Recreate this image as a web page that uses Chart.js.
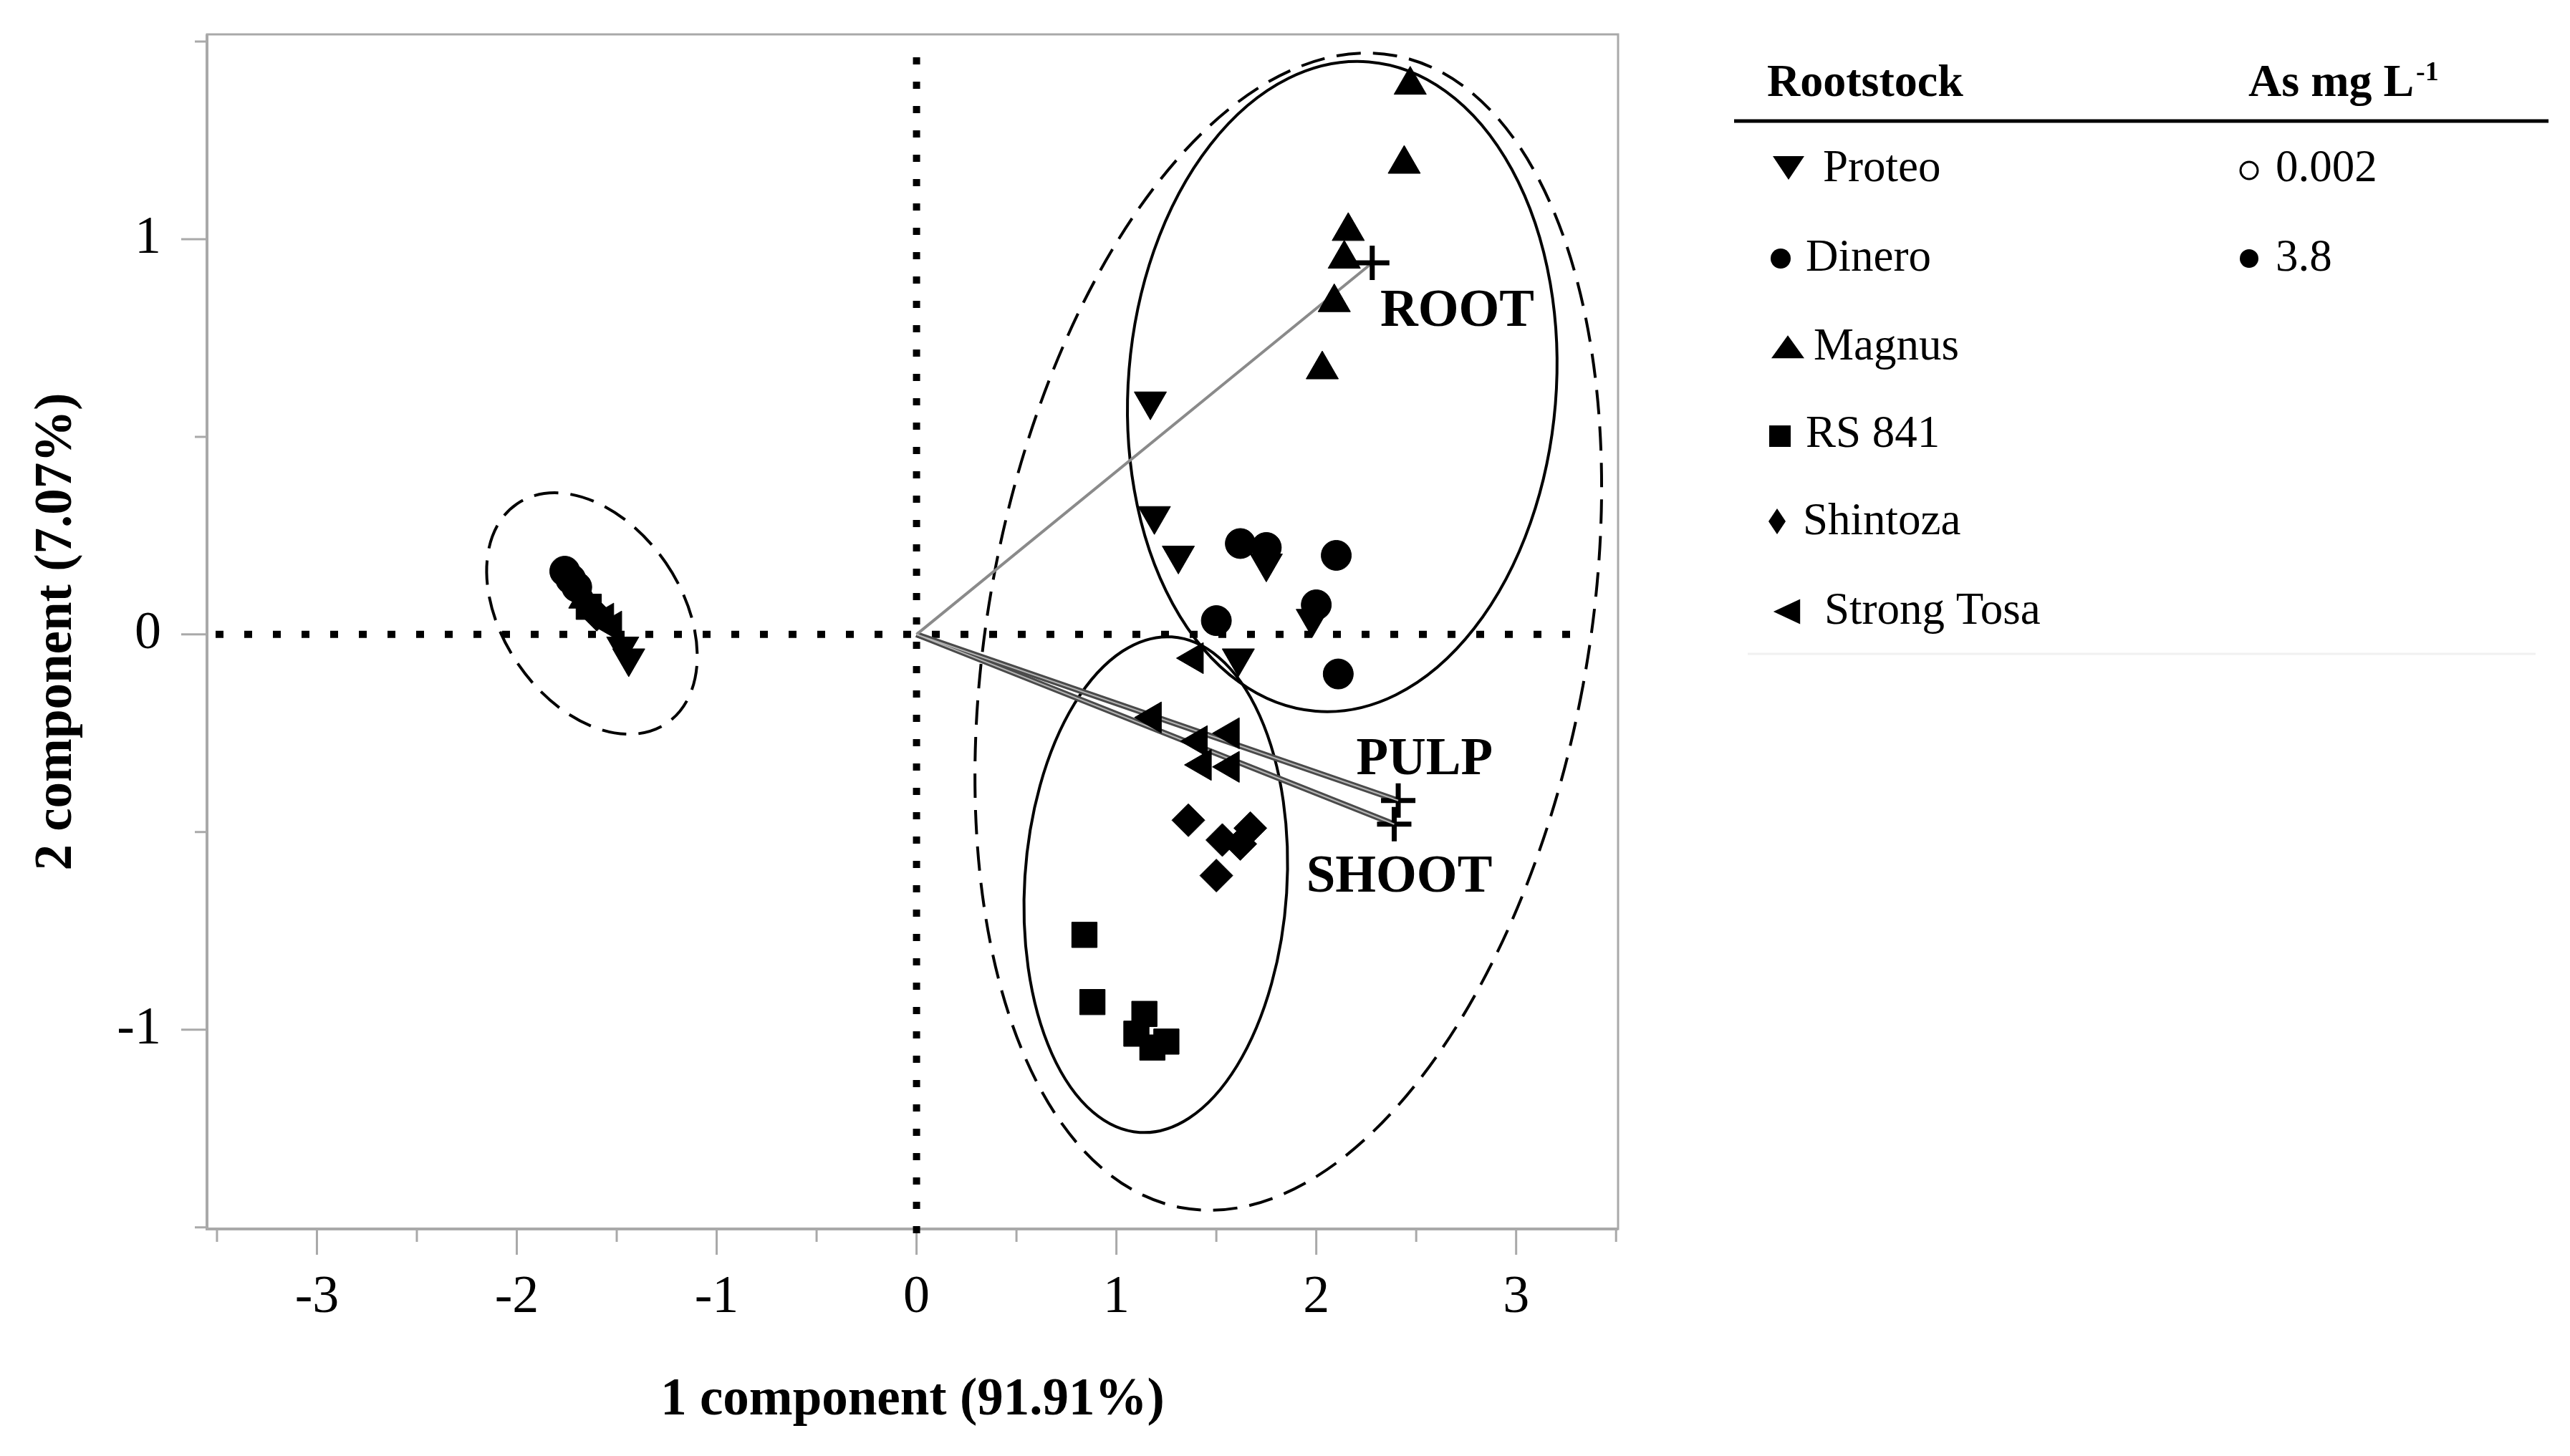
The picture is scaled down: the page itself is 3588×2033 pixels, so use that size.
<!DOCTYPE html>
<html>
<head>
<meta charset="utf-8">
<title>PCA rootstock</title>
<script src="https://cdn.jsdelivr.net/npm/chart.js@4.4.1/dist/chart.umd.min.js"></script>
<style>
  html, body { margin: 0; padding: 0; background: #fff; }
  #wrap { position: relative; width: 3588px; height: 2033px; }
</style>
</head>
<body>
<div id="wrap"><canvas id="pcaChart" width="3588" height="2033"></canvas></div>
<script>
// ---- data (component 1, component 2) ----
const PROTEO = [[1.17, 0.59], [1.19, 0.30], [1.31, 0.20], [1.75, 0.18], [1.98, 0.04], [1.61, -0.06],
  [-1.47, -0.03], [-1.44, -0.06]];
const DINERO = [[1.62, 0.23], [1.75, 0.22], [2.10, 0.20], [1.50, 0.035], [2.00, 0.075], [2.11, -0.10],
  [-1.76, 0.16], [-1.73, 0.14], [-1.70, 0.12]];
const MAGNUS = [[2.47, 1.39], [2.44, 1.19], [2.16, 1.02], [2.14, 0.95], [2.09, 0.84], [2.03, 0.67],
  [-1.66, 0.09]];
const RS841 = [[0.84, -0.76], [0.88, -0.93], [1.14, -0.96], [1.10, -1.01], [1.25, -1.03], [1.18, -1.045],
  [-1.64, 0.07]];
const SHINTOZA = [[1.36, -0.47], [1.53, -0.52], [1.67, -0.49], [1.62, -0.53], [1.50, -0.61],
  [-1.60, 0.05]];
const STRONG_TOSA = [[1.39, -0.06], [1.18, -0.21], [1.41, -0.27], [1.57, -0.25], [1.43, -0.33], [1.57, -0.335],
  [-1.56, 0.04], [-1.52, 0.02]];

// loading vectors (organ)
const ORGANS = ['ROOT', 'PULP', 'SHOOT'];
const ORGAN_ENDS = [[2.28, 0.94], [2.41, -0.42], [2.39, -0.48]];
const ORGAN_LABEL_AT = [[2.32, 0.78], [2.20, -0.353], [1.95, -0.65]];

// grouping ellipses: centre x, centre y, half width (x units), half height (y units), tilt in degrees
const ELLIPSES = [
  { cx: 1.86, cy: 0.007, rx: 1.499, ry: 1.482, tilt: 10.5, dashed: true },
  { cx: -1.624, cy: 0.053, rx: 0.448, ry: 0.336, tilt: -34.4, dashed: true },
  { cx: 2.13, cy: 0.627, rx: 1.07, ry: 0.824, tilt: 4.7, dashed: false },
  { cx: 1.197, cy: -0.633, rx: 0.656, ry: 0.628, tilt: 3.7, dashed: false }
];

const X_TICKS = [-3, -2, -1, 0, 1, 2, 3];
const X_MINOR = [-3.5, -2.5, -1.5, -0.5, 0.5, 1.5, 2.5, 3.5];
const Y_TICKS = [-1, 0, 1];
const Y_MINOR = [-1.5, -0.5, 0.5, 1.5];

const LEGEND_ROOTSTOCK = ['Proteo', 'Dinero', 'Magnus', 'RS 841', 'Shintoza', 'Strong Tosa'];
const LEGEND_DOSE = ['0.002', '3.8'];

const SERIF = '"Liberation Serif", "Times New Roman", serif';

const toXY = arr => arr.map(([x, y]) => ({ x, y }));

const pointSet = (label, data, style, rotation, radius) => ({
  label,
  data: toXY(data),
  pointStyle: style,
  rotation,
  pointRadius: radius,
  backgroundColor: '#000',
  borderColor: '#000',
  borderWidth: 1,
  order: 1
});

// each loading is drawn as a double line (dark edge + light core), with a cross at its end
const vectorSets = ORGANS.flatMap((name, i) => {
  const data = toXY([[0, 0], ORGAN_ENDS[i]]);
  const edge = {
    label: name,
    data,
    showLine: true,
    borderColor: i === 0 ? '#8a8a8a' : '#4a4a4a',
    borderWidth: i === 0 ? 4 : 8,
    pointRadius: [0, 24],
    pointStyle: 'cross',
    pointBorderColor: '#000',
    pointBorderWidth: 7,
    order: 6
  };
  if (i === 0) return [edge];
  return [edge, {
    label: name + ' core',
    data,
    showLine: true,
    borderColor: '#b5b5b5',
    borderWidth: 2,
    pointRadius: 0,
    order: 5
  }];
});

function drawShape(ctx, kind, x, y, s) {
  ctx.beginPath();
  if (kind === 'down') {
    ctx.moveTo(x - s, y - s * 0.55); ctx.lineTo(x + s, y - s * 0.55); ctx.lineTo(x, y + s * 0.95);
  } else if (kind === 'up') {
    ctx.moveTo(x - s, y + s * 0.45); ctx.lineTo(x + s, y + s * 0.45); ctx.lineTo(x, y - s * 0.95);
  } else if (kind === 'left') {
    ctx.moveTo(x + s * 0.6, y - s * 0.8); ctx.lineTo(x + s * 0.6, y + s * 0.8); ctx.lineTo(x - s * 1.1, y);
  } else if (kind === 'square') {
    ctx.rect(x - s, y - s, 2 * s, 2 * s);
  } else if (kind === 'diamond') {
    ctx.moveTo(x, y - s * 1.5); ctx.lineTo(x + s, y); ctx.lineTo(x, y + s * 1.5); ctx.lineTo(x - s, y);
  } else {
    ctx.arc(x, y, s, 0, Math.PI * 2);
  }
  ctx.closePath();
}

const pcaDecor = {
  id: 'pcaDecor',
  beforeDatasetsDraw(chart) {
    const { ctx, chartArea: a, scales: { x, y } } = chart;
    ctx.save();

    // plot frame
    ctx.strokeStyle = '#a9a9a9';
    ctx.lineWidth = 3;
    ctx.strokeRect(a.left, a.top, a.right - a.left, a.bottom - a.top);
    ctx.lineWidth = 4;
    ctx.beginPath();
    ctx.moveTo(a.left, a.top); ctx.lineTo(a.left, a.bottom); ctx.lineTo(a.right, a.bottom);
    ctx.stroke();

    // tick marks
    ctx.lineWidth = 3;
    ctx.beginPath();
    X_TICKS.forEach(v => { const px = x.getPixelForValue(v); ctx.moveTo(px, a.bottom); ctx.lineTo(px, a.bottom + 36); });
    X_MINOR.forEach(v => { const px = x.getPixelForValue(v); ctx.moveTo(px, a.bottom); ctx.lineTo(px, a.bottom + 18); });
    Y_TICKS.forEach(v => { const py = y.getPixelForValue(v); ctx.moveTo(a.left, py); ctx.lineTo(a.left - 36, py); });
    Y_MINOR.forEach(v => { const py = y.getPixelForValue(v); ctx.moveTo(a.left, py); ctx.lineTo(a.left - 17, py); });
    ctx.stroke();

    // dotted zero lines
    const x0 = x.getPixelForValue(0), y0 = y.getPixelForValue(0);
    ctx.strokeStyle = '#000';
    ctx.lineWidth = 10;
    ctx.setLineDash([11, 29]);
    ctx.beginPath();
    ctx.moveTo(a.left + 12, y0); ctx.lineTo(x.getPixelForValue(3.37), y0);
    ctx.stroke();
    ctx.setLineDash([10, 24]);
    ctx.beginPath();
    ctx.moveTo(x0, y.getPixelForValue(1.46)); ctx.lineTo(x0, a.bottom + 16);
    ctx.stroke();

    // grouping ellipses
    ctx.lineWidth = 4;
    ELLIPSES.forEach(e => {
      const cx = x.getPixelForValue(e.cx), cy = y.getPixelForValue(e.cy);
      const rx = Math.abs(x.getPixelForValue(e.cx + e.rx) - cx);
      const ry = Math.abs(y.getPixelForValue(e.cy + e.ry) - cy);
      ctx.setLineDash(e.dashed ? [34, 17] : []);
      ctx.beginPath();
      ctx.ellipse(cx, cy, rx, ry, e.tilt * Math.PI / 180, 0, Math.PI * 2);
      ctx.stroke();
    });
    ctx.restore();
  },
  afterDatasetsDraw(chart) {
    const { ctx, scales: { x, y } } = chart;
    ctx.save();
    ctx.fillStyle = '#000';
    ctx.font = 'bold 73px ' + SERIF;
    ctx.textAlign = 'left';
    ctx.textBaseline = 'alphabetic';
    ORGANS.forEach((name, i) => {
      const [lx, ly] = ORGAN_LABEL_AT[i];
      ctx.fillText(name, x.getPixelForValue(lx), y.getPixelForValue(ly));
    });
    ctx.restore();
  },
  afterDraw(chart) {
    // legend table on the right
    const { ctx } = chart;
    ctx.save();
    ctx.fillStyle = '#000';
    ctx.strokeStyle = '#000';
    ctx.textBaseline = 'alphabetic';
    ctx.textAlign = 'left';
    ctx.font = 'bold 64px ' + SERIF;
    ctx.fillText('Rootstock', 2467, 134);
    ctx.fillText('As mg L', 3139, 134);
    ctx.font = 'bold 38px ' + SERIF;
    ctx.fillText('-1', 3373, 112);

    ctx.lineWidth = 5;
    ctx.beginPath(); ctx.moveTo(2421, 169); ctx.lineTo(3558, 169); ctx.stroke();
    ctx.strokeStyle = '#f1f1f1';
    ctx.lineWidth = 3;
    ctx.beginPath(); ctx.moveTo(2440, 913); ctx.lineTo(3540, 913); ctx.stroke();

    const shapes = [
      ['down', 2497, 230, 22, 2545],
      ['circle', 2486, 361, 14, 2521],
      ['up', 2496, 490, 23, 2532],
      ['square', 2485, 609, 15, 2521],
      ['diamond', 2481, 728, 12, 2517],
      ['left', 2500, 854, 22, 2547]
    ];
    const baselines = [253, 378, 502, 624, 746, 871];
    ctx.font = '63px ' + SERIF;
    LEGEND_ROOTSTOCK.forEach((name, i) => {
      const [kind, sx, sy, s, tx] = shapes[i];
      drawShape(ctx, kind, sx, sy, s);
      ctx.fill();
      ctx.fillText(name, tx, baselines[i]);
    });

    ctx.strokeStyle = '#000';
    ctx.lineWidth = 3;
    drawShape(ctx, 'circle', 3140, 238, 12);
    ctx.stroke();
    drawShape(ctx, 'circle', 3140, 361, 13);
    ctx.fill();
    ctx.fillText(LEGEND_DOSE[0], 3177, 253);
    ctx.fillText(LEGEND_DOSE[1], 3177, 378);
    ctx.restore();
  }
};

const zeroPad = s => { s.paddingTop = 0; s.paddingBottom = 0; s.paddingLeft = 0; s.paddingRight = 0; };

new Chart(document.getElementById('pcaChart'), {
  type: 'scatter',
  data: {
    datasets: [
      ...vectorSets,
      pointSet('Proteo', PROTEO, 'triangle', 180, 26),
      pointSet('Dinero', DINERO, 'circle', 0, 21),
      pointSet('Magnus', MAGNUS, 'triangle', 0, 26),
      pointSet('RS 841', RS841, 'rect', 0, 25),
      pointSet('Shintoza', SHINTOZA, 'rectRot', 0, 23),
      pointSet('Strong Tosa', STRONG_TOSA, 'triangle', 270, 25)
    ]
  },
  options: {
    responsive: false,
    devicePixelRatio: 1,
    animation: false,
    layout: { padding: { left: 0, top: 48, right: 1329, bottom: 0 } },
    plugins: {
      legend: { display: false },
      tooltip: { enabled: false }
    },
    scales: {
      x: {
        type: 'linear',
        min: -3.55,
        max: 3.51,
        afterBuildTicks: s => { s.ticks = X_TICKS.map(v => ({ value: v })); },
        afterFit: s => { s.height = 317; zeroPad(s); },
        grid: { display: false, drawTicks: false },
        border: { display: false },
        ticks: {
          autoSkip: false,
          maxRotation: 0,
          padding: 52,
          color: '#000',
          font: { family: SERIF, size: 74 }
        },
        title: {
          display: true,
          text: '1 component (91.91%)',
          color: '#000',
          font: { family: SERIF, size: 73, weight: 'bold' },
          padding: { top: 0, bottom: 33 }
        }
      },
      y: {
        type: 'linear',
        min: -1.504,
        max: 1.518,
        afterBuildTicks: s => { s.ticks = Y_TICKS.map(v => ({ value: v })); },
        afterFit: s => { s.width = 289; zeroPad(s); },
        grid: { display: false, drawTicks: false },
        border: { display: false },
        ticks: {
          padding: 64,
          color: '#000',
          font: { family: SERIF, size: 74 }
        },
        title: {
          display: true,
          text: '2 component (7.07%)',
          color: '#000',
          font: { family: SERIF, size: 73, weight: 'bold' },
          padding: { top: 36, bottom: 0 }
        }
      }
    }
  },
  plugins: [pcaDecor]
});
</script>
</body>
</html>
